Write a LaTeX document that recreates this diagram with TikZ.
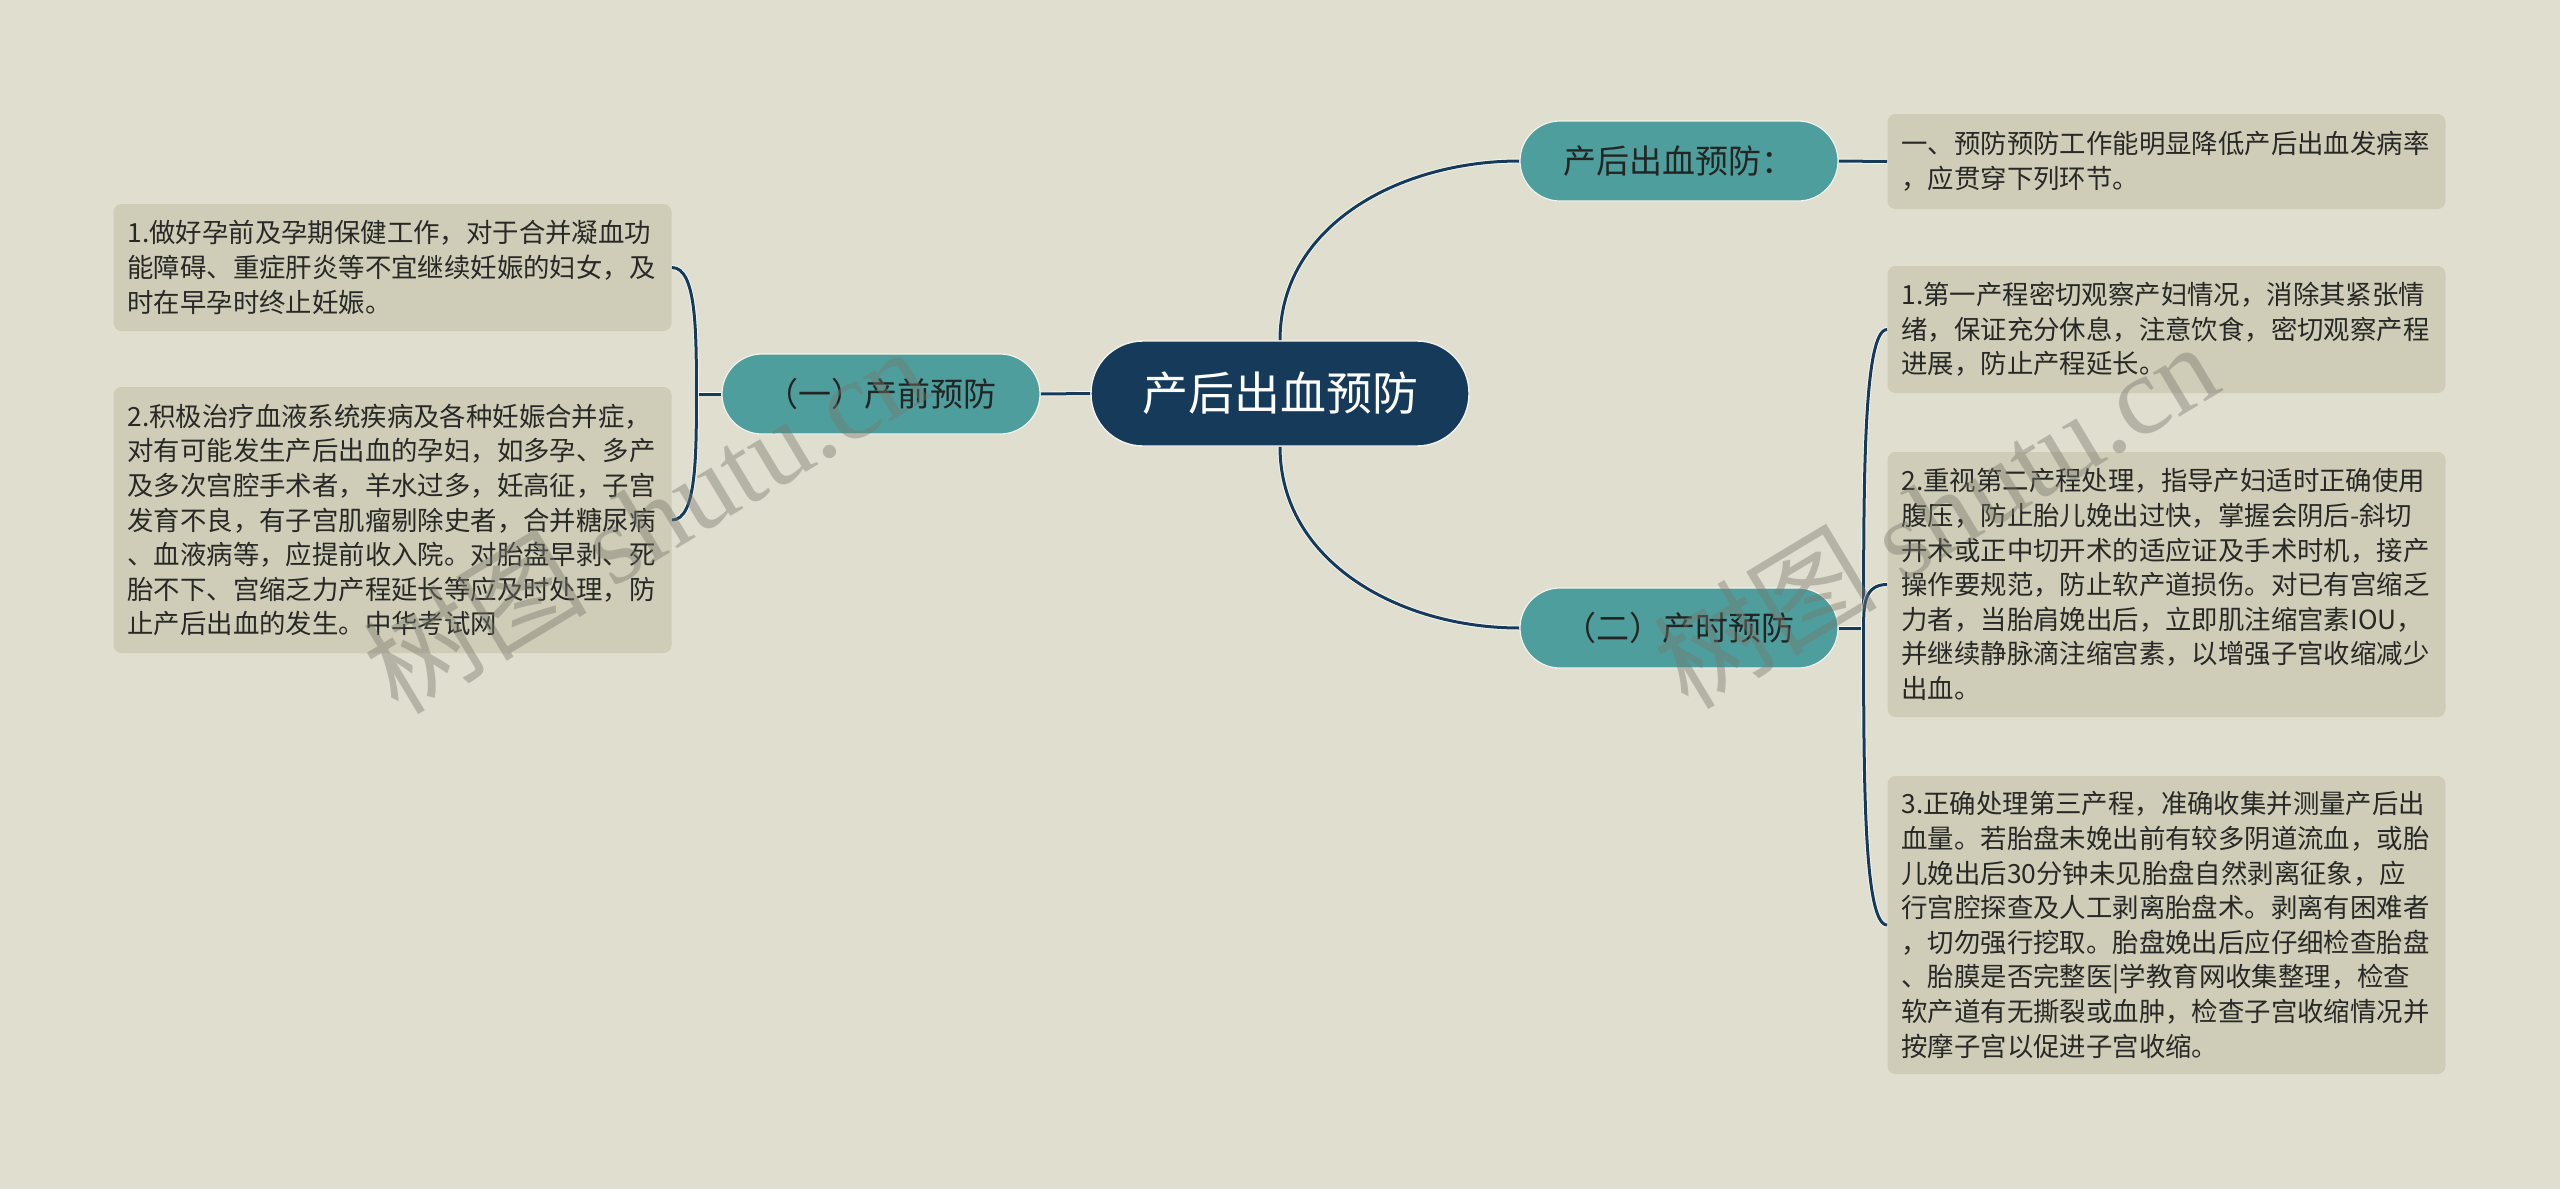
\documentclass[tikz,border=0pt]{standalone}
\usepackage{fontspec}
\setmainfont{Noto Sans CJK SC}
\newfontfamily\wmserif{Liberation Serif}
\usetikzlibrary{calc}
\definecolor{bgc}{RGB}{224,222,206}
\definecolor{boxc}{RGB}{207,205,183}
\definecolor{tealc}{RGB}{77,158,157}
\definecolor{navyc}{RGB}{22,59,90}
\definecolor{txtc}{RGB}{40,40,38}
\definecolor{wmc}{RGB}{120,120,110}
\pgfdeclarelayer{back}
\pgfdeclarelayer{lines}
\pgfsetlayers{back,lines,main}
\begin{document}
\begin{tikzpicture}[x=0.5pt,y=-0.5pt,
  rootbox/.style={fill=navyc, draw=white!60!bgc, line width=0.7pt, rounded corners=26pt,
    minimum width=189pt, minimum height=52.5pt, inner sep=0pt, text=white,
    font=\fontsize{23}{27}\selectfont},
  branchbox/.style={fill=tealc, draw=white!60!bgc, line width=0.6pt, rounded corners=20pt,
    minimum width=159pt, minimum height=40pt, inner sep=0pt, text=txtc!90!black,
    font=\fontsize{16.5}{20}\selectfont},
  leafbox/.style={fill=boxc, rounded corners=4pt, text=txtc, align=left,
    text width=265pt, inner xsep=7pt, inner ysep=0pt,
    font=\fontsize{13.2}{17.3}\selectfont},
  conn/.style={draw=navyc, line width=1.5pt,
    preaction={draw=white!75!bgc, line width=2.4pt}},
  wm/.style={text=wmc, text opacity=0.42, inner sep=0pt}
]
\begin{pgfonlayer}{back}
\fill[bgc] (0,0) rectangle (2560,1189);
\end{pgfonlayer}
\useasboundingbox (0,0) rectangle (2560,1189);

\node[rootbox] (root) at (1280,393.5) {产后出血预防};
\node[branchbox] (pb) at (1679,161) {产后出血预防：};
\node[branchbox] (b1) at (881,394) {（一）产前预防};
\node[branchbox] (b2) at (1679,628) {（二）产时预防};

\node[leafbox, minimum height=47.5pt] (t0) at (2166.5,161.5) {一、预防预防工作能明显降低产后出血发病率\\，应贯穿下列环节。};
\node[leafbox, minimum height=63.5pt] (L1) at (392.5,267.5) {1.做好孕前及孕期保健工作，对于合并凝血功\\能障碍、重症肝炎等不宜继续妊娠的妇女，及\\时在早孕时终止妊娠。};
\node[leafbox, minimum height=133pt] (L2) at (392.5,520) {2.积极治疗血液系统疾病及各种妊娠合并症，\\对有可能发生产后出血的孕妇，如多孕、多产\\及多次宫腔手术者，羊水过多，妊高征，子宫\\发育不良，有子宫肌瘤剔除史者，合并糖尿病\\、血液病等，应提前收入院。对胎盘早剥、死\\胎不下、宫缩乏力产程延长等应及时处理，防\\止产后出血的发生。中华考试网};
\node[leafbox, minimum height=63.5pt] (R1) at (2166.5,329.5) {1.第一产程密切观察产妇情况，消除其紧张情\\绪，保证充分休息，注意饮食，密切观察产程\\进展，防止产程延长。};
\node[leafbox, minimum height=132.5pt] (R2) at (2166.5,584.5) {2.重视第二产程处理，指导产妇适时正确使用\\腹压，防止胎儿娩出过快，掌握会阴后-斜切\\开术或正中切开术的适应证及手术时机，接产\\操作要规范，防止软产道损伤。对已有宫缩乏\\力者，当胎肩娩出后，立即肌注缩宫素IOU，\\并继续静脉滴注缩宫素，以增强子宫收缩减少\\出血。};
\node[leafbox, minimum height=149pt] (R3) at (2166.5,925) {3.正确处理第三产程，准确收集并测量产后出\\血量。若胎盘未娩出前有较多阴道流血，或胎\\儿娩出后30分钟未见胎盘自然剥离征象，应\\行宫腔探查及人工剥离胎盘术。剥离有困难者\\，切勿强行挖取。胎盘娩出后应仔细检查胎盘\\、胎膜是否完整医|学教育网收集整理，检查\\软产道有无撕裂或血肿，检查子宫收缩情况并\\按摩子宫以促进子宫收缩。};

\coordinate (lj) at ($(b1.west)+(-25,0)$);
\coordinate (rj) at ($(b2.east)+(25,0)$);

\begin{pgfonlayer}{lines}
\draw[conn] (root.north) .. controls ($(root.north)+(0,-115)$) and ($(pb.west)+(-120,0)$) .. (pb.west);
\draw[conn] (root.south) .. controls ($(root.south)+(0,115)$) and ($(b2.west)+(-120,0)$) .. (b2.west);
\draw[conn] (root.west) -- (b1.east);
\draw[conn] (pb.east) -- (t0.west);
\draw[conn] (b1.west) -- (lj);
\draw[conn] (lj) .. controls ($(lj)!0.5!(lj |- L1.east)$) and (lj |- L1.east) .. (L1.east);
\draw[conn] (lj) .. controls ($(lj)!0.5!(lj |- L2.east)$) and (lj |- L2.east) .. (L2.east);
\draw[conn] (b2.east) -- (rj);
\draw[conn] (rj) .. controls ($(rj)!0.5!(rj |- R1.west)$) and (rj |- R1.west) .. (R1.west);
\draw[conn] (rj) .. controls ($(rj)!0.5!(rj |- R2.west)$) and (rj |- R2.west) .. (R2.west);
\draw[conn] (rj) .. controls ($(rj)!0.5!(rj |- R3.west)$) and (rj |- R3.west) .. (R3.west);
\end{pgfonlayer}

\node[wm, rotate=31] (wm1) at (645,519) {\fontsize{56}{60}\selectfont 树图 \wmserif shutu.cn};
\node[wm, rotate=31] (wm2) at (1935,514) {\fontsize{56}{60}\selectfont 树图 \wmserif shutu.cn};
\end{tikzpicture}
\end{document}
